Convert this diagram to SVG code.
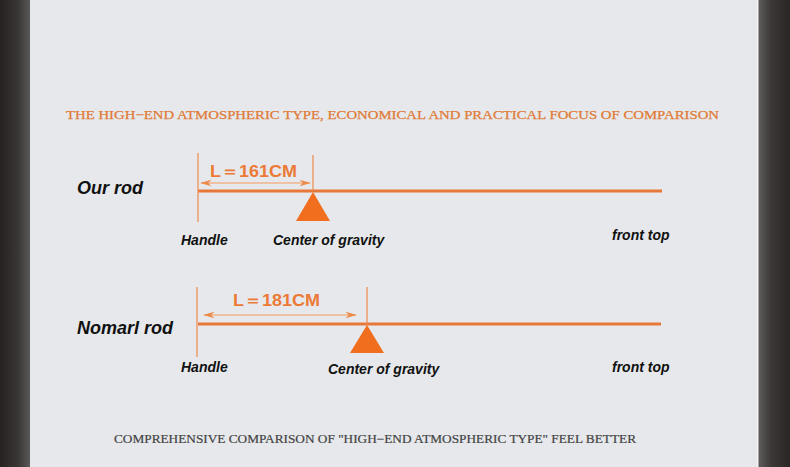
<svg xmlns="http://www.w3.org/2000/svg" width="790" height="467" viewBox="0 0 790 467">
<defs>
<linearGradient id="gl" x1="0" y1="0" x2="1" y2="0"><stop offset="0" stop-color="#262222"/><stop offset="0.6" stop-color="#3a3636"/><stop offset="1" stop-color="#5a5858"/></linearGradient>
<linearGradient id="gr" x1="0" y1="0" x2="1" y2="0"><stop offset="0" stop-color="#5e5c5c"/><stop offset="0.4" stop-color="#3c3838"/><stop offset="1" stop-color="#2a2626"/></linearGradient>
<marker id="ah" viewBox="0 0 14 10" refX="13" refY="5" markerWidth="14" markerHeight="8" markerUnits="userSpaceOnUse" orient="auto-start-reverse"><path d="M0,1 L14,5 L0,9 L4,5 Z" fill="#ec8a4a"/></marker>
</defs>
<style>
.rod{stroke:#e8783a;stroke-width:3;fill:none}
.thin{stroke:#ee8a4c;stroke-width:1.2;fill:none}
.dim{stroke:#f2b48a;stroke-width:1.5;fill:none}
.tri{fill:#f06e1e}
.name{font-family:"Liberation Sans",Arial,sans-serif;font-weight:bold;font-style:italic;font-size:18px;fill:#111}
.lab{font-family:"Liberation Sans",Arial,sans-serif;font-weight:bold;font-style:italic;font-size:14px;fill:#111}
.len{font-family:"Liberation Sans",Arial,sans-serif;font-weight:bold;font-size:17px;fill:#ec7a36}
.title{font-family:"Liberation Serif","Times New Roman",serif;font-size:13px;fill:#e07a36;stroke:#e07a36;stroke-width:0.25}
.foot{font-family:"Liberation Serif","Times New Roman",serif;font-size:12px;fill:#444;stroke:#444;stroke-width:0.2}
</style>
<rect width="790" height="467" fill="#e6e8eb"/>
<rect x="0" y="0" width="30" height="467" fill="url(#gl)"/>
<rect x="757" y="0" width="1.5" height="467" fill="#f4f4f4"/>
<rect x="758.5" y="0" width="31.5" height="467" fill="url(#gr)"/>
<text class="title" x="66" y="119" textLength="653" lengthAdjust="spacingAndGlyphs">THE HIGH−END ATMOSPHERIC TYPE, ECONOMICAL AND PRACTICAL FOCUS OF COMPARISON</text>
<g id="our-rod">
<text class="name" x="77" y="194">Our rod</text>
<line class="rod" x1="198" y1="191" x2="662" y2="191"/>
<polygon class="tri" points="313,192 296,221 330,221"/>
<text class="len" x="210" y="177" textLength="87" lengthAdjust="spacingAndGlyphs">L＝161CM</text>
<text class="lab" x="181" y="245">Handle</text>
<text class="lab" x="273" y="245">Center of gravity</text>
<text class="lab" x="612" y="240">front top</text>
</g>
<g id="normal-rod">
<text class="name" x="77" y="334">Nomarl rod</text>
<line class="rod" x1="198" y1="324" x2="661" y2="324"/>
<polygon class="tri" points="367,325 350,353 384,353"/>
<text class="len" x="233" y="306" textLength="87" lengthAdjust="spacingAndGlyphs">L＝181CM</text>
<text class="lab" x="181" y="372">Handle</text>
<text class="lab" x="328" y="374">Center of gravity</text>
<text class="lab" x="612" y="372">front top</text>
</g>
<g id="connectors">
<line class="thin" x1="198" y1="153" x2="198" y2="222"/>
<line class="thin" x1="313" y1="155" x2="313" y2="191"/>
<line class="dim" x1="201" y1="183" x2="310" y2="183" marker-start="url(#ah)" marker-end="url(#ah)"/>
<line class="thin" x1="197" y1="287" x2="197" y2="357"/>
<line class="thin" x1="367" y1="287" x2="367" y2="324"/>
<line class="dim" x1="204" y1="315" x2="356" y2="315" marker-start="url(#ah)" marker-end="url(#ah)"/>
</g>
<text class="foot" x="114" y="443" textLength="522" lengthAdjust="spacingAndGlyphs">COMPREHENSIVE COMPARISON OF "HIGH−END ATMOSPHERIC TYPE" FEEL BETTER</text>
</svg>
